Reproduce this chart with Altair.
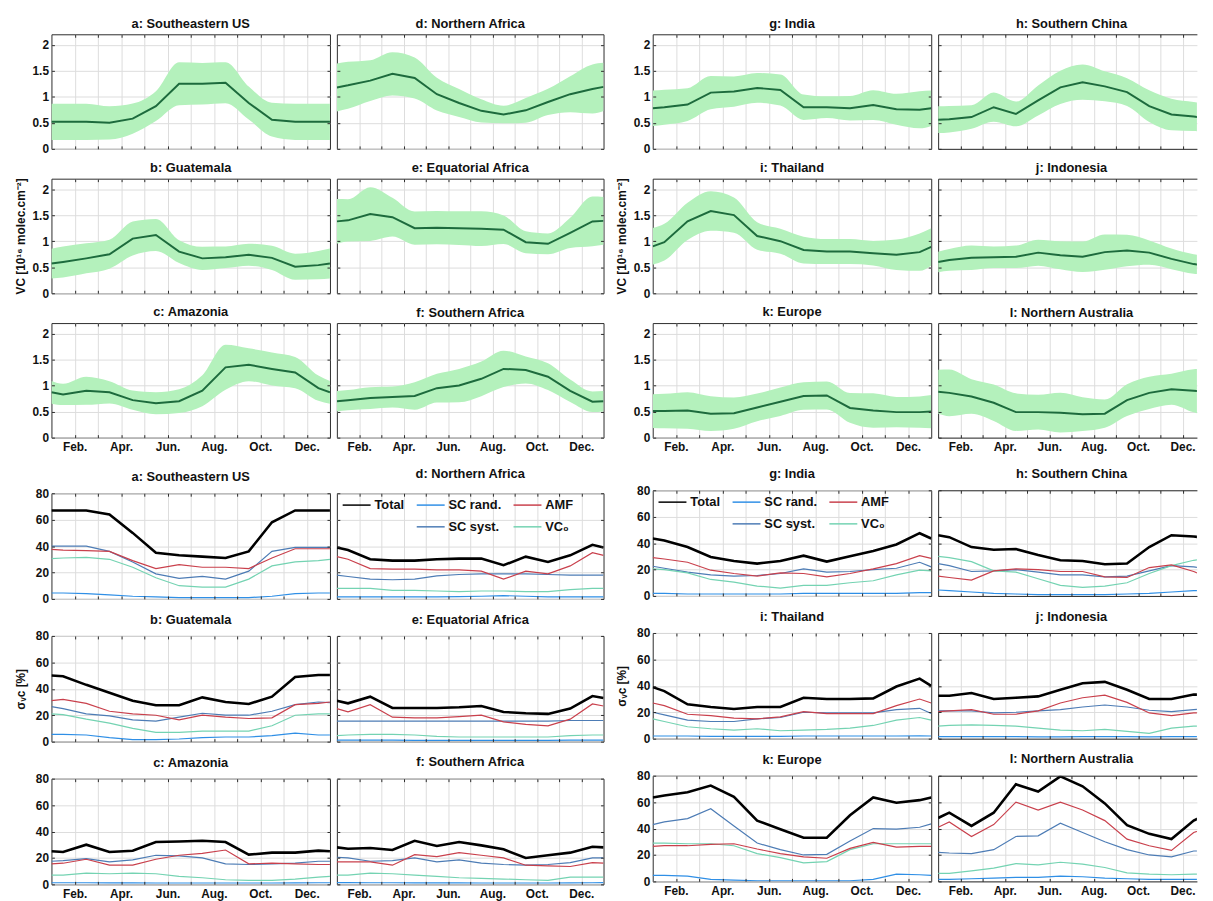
import json
import altair as alt
import pandas as pd

# ---------------- data ----------------
X = [0, 0.5, 1.5, 2.5, 3.5, 4.5, 5.5, 6.5, 7.5, 8.5, 9.5, 10.5, 11.5, 12]
MONTH_TICKS = [1, 2, 3, 4, 5, 6, 7, 8, 9, 10, 11]
MONTH_LABELS = ["Feb.", "", "Apr.", "", "Jun.", "", "Aug.", "", "Oct.", "", "Dec."]
VC_TICKS = [0, 0.5, 1, 1.5, 2]
ERR_TICKS = [0, 20, 40, 60, 80]

TITLES = {
    "a": "a: Southeastern US", "b": "b: Guatemala", "c": "c: Amazonia",
    "d": "d: Northern Africa", "e": "e: Equatorial Africa", "f": "f: Southern Africa",
    "g": "g: India", "h": "h: Southern China", "i": "i: Thailand",
    "j": "j: Indonesia", "k": "k: Europe", "l": "l: Northern Australia",
}

VC = {
    "a": [0.52, 0.52, 0.52, 0.50, 0.58, 0.82, 1.25, 1.25, 1.27, 0.88, 0.56, 0.52, 0.52, 0.52],
    "b": [0.57, 0.60, 0.67, 0.75, 1.05, 1.12, 0.80, 0.67, 0.69, 0.74, 0.68, 0.51, 0.54, 0.57],
    "c": [0.87, 0.83, 0.90, 0.87, 0.72, 0.66, 0.70, 0.90, 1.35, 1.40, 1.32, 1.25, 0.95, 0.87],
    "d": [1.18, 1.22, 1.31, 1.44, 1.36, 1.05, 0.88, 0.73, 0.66, 0.74, 0.90, 1.05, 1.15, 1.19],
    "e": [1.38, 1.40, 1.52, 1.46, 1.25, 1.26, 1.25, 1.24, 1.22, 0.98, 0.95, 1.16, 1.38, 1.39],
    "f": [0.70, 0.72, 0.76, 0.78, 0.80, 0.95, 1.00, 1.13, 1.32, 1.30, 1.17, 0.90, 0.69, 0.70],
    "g": [0.78, 0.80, 0.85, 1.08, 1.10, 1.17, 1.13, 0.80, 0.80, 0.78, 0.84, 0.76, 0.75, 0.78],
    "h": [0.56, 0.57, 0.61, 0.80, 0.67, 0.93, 1.18, 1.28, 1.20, 1.09, 0.82, 0.66, 0.62, 0.60],
    "i": [0.90, 0.98, 1.38, 1.58, 1.50, 1.10, 1.00, 0.83, 0.80, 0.80, 0.77, 0.74, 0.79, 0.89],
    "j": [0.60, 0.64, 0.68, 0.69, 0.70, 0.78, 0.73, 0.70, 0.79, 0.82, 0.78, 0.66, 0.56, 0.54],
    "k": [0.51, 0.51, 0.52, 0.46, 0.47, 0.58, 0.69, 0.80, 0.81, 0.57, 0.52, 0.49, 0.49, 0.50],
    "l": [0.88, 0.86, 0.79, 0.67, 0.49, 0.49, 0.48, 0.45, 0.46, 0.72, 0.86, 0.93, 0.90, 0.88],
}

TOTAL = {
    "a": [67, 67, 67, 64, 50, 35, 33, 32, 31, 36, 58, 67, 67, 67],
    "b": [50, 49.5, 43, 37, 31, 27.5, 27.5, 33.5, 30, 28.5, 34, 49, 50.5, 50.5],
    "c": [25, 24.5, 30, 24.5, 25.5, 32, 32.5, 33, 32, 22.5, 24, 24, 25.5, 25],
    "d": [39, 37, 30, 29, 29, 30, 30.5, 30.5, 25.5, 32, 28, 33, 41, 39],
    "e": [31, 29, 34, 25.5, 25.5, 25.5, 26, 27, 22.5, 21.5, 21, 25, 34.5, 33],
    "f": [28, 27, 27.5, 26, 33, 29, 32, 29.5, 26.5, 20, 22, 24, 28.5, 28],
    "g": [43.5, 42, 37, 29.5, 26.5, 24.5, 26.5, 30.5, 26, 30, 34, 39, 47.5, 43.5],
    "h": [46, 44.5, 37, 35, 35.5, 31, 27, 26.5, 24, 24.5, 37, 46, 45, 44],
    "i": [39, 36, 26, 24, 22.5, 24, 24, 31, 30, 30, 30.5, 39.5, 45.5, 40],
    "j": [32.5, 32.5, 34.5, 30, 31, 32, 37, 42, 43, 37, 30, 30, 33.5, 33],
    "k": [63.5, 65, 67.5, 72.5, 64, 46, 39.5, 33, 33, 50, 63.5, 59.5, 61.5, 63.5],
    "l": [48, 52, 42, 52, 73.5, 68, 79.5, 72, 59, 42.5, 36, 32, 46, 50],
}

AMF = {
    "a": [37.5, 37, 36.5, 36, 29, 23, 26, 24, 24, 23, 31, 38, 38, 38],
    "b": [31, 32, 29, 23, 21, 20, 16.5, 20, 18.5, 17.5, 18, 28, 29, 30],
    "c": [15.5, 16, 19, 14.5, 14.5, 19, 22, 23.5, 26, 15.5, 16, 15.5, 15, 15],
    "d": [32, 30, 23, 22.5, 22.5, 22, 22, 21, 15, 21, 19, 25, 35, 33],
    "e": [25, 22.5, 28, 18.5, 18, 18, 19, 20, 15, 13, 12, 17, 28.5, 27],
    "f": [17, 17, 17, 14.5, 22.5, 21, 24, 22, 20, 14.5, 14, 13.5, 16.5, 16],
    "g": [29, 28, 25.5, 19.5, 17, 15, 17.5, 17, 14.5, 17, 20.5, 24.5, 30.5, 28.5],
    "h": [15, 14, 12, 19, 20.5, 20, 18.5, 18.5, 14.5, 14, 21.5, 23.5, 18.5, 15],
    "i": [27, 25, 18.5, 17.5, 15.5, 15, 16.5, 20.5, 19, 19, 19, 25, 30, 27],
    "j": [20.5, 21, 22, 18.5, 18.5, 21, 27, 31, 33, 27.5, 19.5, 17.5, 19.5, 19.5],
    "k": [26.5, 27, 27, 28, 28.5, 24.5, 21, 18.5, 17.5, 25, 29.5, 26, 26.5, 26.5],
    "l": [41, 45, 34, 43, 60, 54, 60, 54, 46, 32, 27, 23.5, 37, 40],
}

SC_SYST = {
    "a": [40, 40, 40, 36, 28, 19, 15.5, 17, 15, 21, 36, 39, 39, 39],
    "b": [26.5, 25, 21, 19.5, 16.5, 15.5, 18.5, 21.5, 20, 20, 23, 28, 30, 29.5],
    "c": [17.5, 18, 19.5, 17, 18.5, 22, 21.5, 20, 15.5, 15, 15.5, 16, 17.5, 17.5],
    "d": [18, 17, 15, 14.5, 15, 17.5, 18.5, 19, 19, 19, 18.5, 18, 18, 18],
    "e": [15.5, 15.5, 15.5, 15.5, 15.5, 15.5, 15.5, 15.5, 15.5, 15.5, 15.5, 16, 16, 16],
    "f": [20.5, 20, 17.5, 18, 20, 17, 18.5, 16, 15, 14.5, 15, 16.5, 20, 20],
    "g": [22.5, 21, 18, 16, 15, 15.5, 17, 20.5, 18, 18.5, 20, 21, 25.5, 22],
    "h": [24.5, 23, 18.5, 19, 20, 18, 16, 16, 14.5, 15, 19, 23, 22, 21],
    "i": [20, 18, 14, 13, 13, 15, 16, 20, 19.5, 19.5, 19.5, 22, 23, 19],
    "j": [21, 21, 21, 19.5, 20, 21, 22, 24, 25.5, 24, 21.5, 20.5, 22, 22.5],
    "k": [43, 45, 47.5, 55, 42, 29, 24, 20, 20.5, 30.5, 40, 39.5, 41, 43.5],
    "l": [22, 21.5, 21, 24, 34, 34.5, 44, 37, 30, 24, 20, 18.5, 23, 23],
}

VC0 = {
    "a": [30.5, 31, 31.5, 30, 24, 16, 10, 9, 9, 15, 25, 28, 29, 30],
    "b": [21, 20.5, 17, 14, 10, 7, 7, 8, 8, 8, 12, 20, 21, 21],
    "c": [7, 7, 8.5, 8, 8.5, 8, 6, 5, 3.5, 3, 3, 4, 5.5, 6],
    "d": [8, 8, 8, 6.5, 6.5, 6, 5.5, 6, 6, 5.5, 5.5, 7, 8, 8],
    "e": [4.5, 5, 5.5, 5.5, 5, 4, 3.5, 3.5, 3.5, 3.5, 3.5, 4.5, 5, 5],
    "f": [7, 7, 8.5, 8, 7, 6, 5, 4.5, 4, 3.5, 3, 5.5, 5.5, 5.5],
    "g": [20.5, 20, 17.5, 12.5, 10.5, 7.5, 6, 8, 8, 10, 11.5, 16, 19.5, 19],
    "h": [30, 29, 26, 19, 18, 13, 8, 6.5, 7.5, 10, 17, 23, 27, 28],
    "i": [15, 13, 9, 7.5, 6.5, 7.5, 6, 6.5, 7, 8, 10, 14, 16, 14],
    "j": [9.5, 10, 10.5, 10, 9.5, 8, 6.5, 6, 7, 5.5, 4, 8, 9.5, 9.5],
    "k": [29, 29, 28.5, 28.5, 27, 21, 18, 14, 15, 24, 28.5, 28.5, 28.5, 28.5],
    "l": [6, 6, 8, 10, 13.5, 12.5, 14.5, 13, 10.5, 6.5, 5.5, 5, 5.5, 5.5],
}

SC_RAND = {
    "a": [4.5, 4.5, 4, 3, 2, 1.5, 1, 1, 1, 1, 2, 4, 4.5, 4.5],
    "b": [5.5, 5.5, 5, 3, 1.5, 1.5, 2, 3, 3.5, 3.5, 4.5, 6.5, 5, 5],
    "c": [1.2, 1.2, 1.2, 1.1, 1.1, 1, 1, 1, 1, 1, 1, 1.1, 1.2, 1.2],
    "d": [1.5, 1.5, 1.5, 1.5, 1.5, 1.5, 1.8, 2, 2.5, 2, 1.5, 1.5, 1.5, 1.5],
    "e": [1.2, 1.2, 1.1, 1.1, 1, 1, 1, 1, 1, 1, 1, 1.1, 1.2, 1.2],
    "f": [1.3, 1.3, 1.2, 1.2, 1.1, 1.1, 1.1, 1, 1, 1, 1, 1.1, 1.2, 1.3],
    "g": [2, 2, 1.5, 1.5, 1.5, 1.5, 1.5, 2, 2, 2, 2, 2, 2.5, 2.5],
    "h": [4.5, 4, 3, 2, 1.5, 1, 1, 1, 1, 1.5, 2, 3, 4, 4],
    "i": [2, 2, 2, 1.8, 1.8, 1.8, 1.8, 2, 2, 2, 2, 2, 2.2, 2],
    "j": [1.5, 1.5, 1.6, 1.5, 1.5, 1.4, 1.4, 1.5, 1.5, 1.5, 1.4, 1.5, 1.5, 1.5],
    "k": [4.5, 4.5, 4, 1.5, 1, 0.5, 0.5, 0.5, 0.5, 0.5, 1.5, 5.5, 5, 4.5],
    "l": [1.5, 1.5, 2, 2.5, 3, 3, 4, 3.5, 2.5, 2, 1.5, 1.5, 1.5, 1.5],
}

SERIES = ["Total", "SC rand.", "AMF", " ", "SC syst.", "VC\u2080"]
SERIES_DATA = [("SC rand.", SC_RAND), ("SC syst.", SC_SYST), ("VC\u2080", VC0),
               ("AMF", AMF), ("Total", TOTAL)]

# ---------------- style ----------------
FONT = "Liberation Sans"
AX_COLOR = "#2b2b2b"
GRID_COLOR = "#dcdcdc"
BAND_COLOR = "#b4f1bc"
MEAN_COLOR = "#1d6b3d"
SERIES_COLORS = ["#000000", "#2f8fe6", "#c9404c", "transparent", "#4d7cb5", "#74d3b2"]

VC_TITLE = "VC [10\u00b9\u2076 molec.cm\u207b\u00b2]"
ERR_TITLE = "\u03c3\u1d65\u1d04 [%]"

W_L, W_R = 282, 270
W_CUT = 262                      # visible part of the right-most column
X_CUT = 12 * W_CUT / W_R
H_TOP, H_BOT = 116, 107

LABEL_EXPR = "[" + ",".join(json.dumps(s) for s in MONTH_LABELS) + "][datum.value - 1]"


def main_x_axis(show):
    return alt.Axis(values=MONTH_TICKS, labelExpr=LABEL_EXPR, labels=show, ticks=False,
                    domain=False, grid=True, gridColor=GRID_COLOR, gridWidth=1, title=None,
                    labelFont=FONT, labelFontSize=12, labelFontWeight="bold", labelColor="#111111",
                    labelPadding=4, labelOverlap=False, labelFlush=False, zindex=0)


def main_y_axis(vals, fmt, show, title, title_opacity, tpad, domain=False):
    return alt.Axis(values=vals, format=fmt, labels=show, ticks=False, domain=domain,
                    domainColor=AX_COLOR, grid=True, gridColor=GRID_COLOR, gridWidth=1, title=title,
                    titleFont=FONT, titleFontSize=12, titleFontWeight="bold", titleColor="#111111",
                    titleOpacity=title_opacity, titlePadding=tpad,
                    labelFont=FONT, labelFontSize=12, labelFontWeight="bold",
                    labelColor="#111111", labelPadding=3, labelOverlap=False, labelFlush=False,
                    zindex=0)


def tick_axis(vals, orient):
    return alt.Axis(orient=orient, values=vals, labels=False, ticks=True, tickSize=3,
                    tickColor=AX_COLOR, tickWidth=1, domain=False, grid=False, offset=-3,
                    title=None, zindex=2)


def frame_axis(orient):
    return alt.Axis(orient=orient, values=MONTH_TICKS, labels=False, ticks=False, domain=True,
                    domainColor=AX_COLOR, domainWidth=1, grid=False, title=None, zindex=2)


def legend_spec():
    return alt.Legend(orient="none", legendX=5, legendY=-3, columns=3, title=None,
                      symbolType="stroke", symbolSize=800, symbolStrokeWidth=1.5,
                      labelFont=FONT, labelFontSize=13, labelFontWeight="bold",
                      labelColor="#111111", padding=0, columnPadding=8, rowPadding=0,
                      labelOffset=3, direction="horizontal")


def panel(kind, key, width, height, show_x, left_col, ytitle, title_opacity, tpad,
          with_legend, cut, title_offset):
    xmax = X_CUT if cut else 12
    xs = alt.Scale(domain=[0, xmax], nice=False, zero=False)
    if kind == "vc":
        ydom, yvals, fmt = [0, 2.2], VC_TICKS, ".1~f"
    else:
        ydom, yvals, fmt = [0, 80], ERR_TICKS, "d"
    ys = alt.Scale(domain=ydom, nice=False, zero=False)
    xaxis = main_x_axis(show_x)
    if left_col:
        yaxis = main_y_axis(yvals, fmt, True, ytitle, title_opacity, tpad)
    else:
        yaxis = main_y_axis(yvals, fmt, False, None, 1, tpad, domain=cut)

    if kind == "vc":
        df = pd.DataFrame({"x": X, "vc": VC[key], "tot": TOTAL[key]})
        base = alt.Chart(df)
        band = base.transform_calculate(
            lo="datum.vc * (1 - datum.tot / 100)",
            hi="datum.vc * (1 + datum.tot / 100)",
        ).mark_area(color=BAND_COLOR, interpolate="monotone", clip=True).encode(
            x=alt.X("x:Q", scale=xs, axis=None),
            y=alt.Y("lo:Q", scale=ys, axis=None),
            y2="hi:Q",
        )
        line = base.mark_line(color=MEAN_COLOR, strokeWidth=2, clip=True).encode(
            x=alt.X("x:Q", scale=xs, axis=xaxis),
            y=alt.Y("vc:Q", scale=ys, axis=yaxis),
        )
        layers = [band, line]
        yfield = "vc:Q"
    else:
        rows = []
        for name, src in SERIES_DATA:
            for xv, v in zip(X, src[key]):
                rows.append({"x": xv, "v": v, "s": name})
        df = pd.DataFrame(rows)
        base = alt.Chart(df)
        leg = legend_spec() if with_legend else None
        line = base.mark_line(clip=True).encode(
            x=alt.X("x:Q", scale=xs, axis=xaxis),
            y=alt.Y("v:Q", scale=ys, axis=yaxis),
            color=alt.Color("s:N", scale=alt.Scale(domain=SERIES, range=SERIES_COLORS), legend=leg),
            strokeWidth=alt.condition(alt.datum.s == "Total", alt.value(2.6), alt.value(1.2)),
        )
        layers = [line]
        yfield = "v:Q"

    t1 = base.mark_line(opacity=0).encode(
        x=alt.X("x:Q", scale=xs, axis=tick_axis(MONTH_TICKS, "bottom")),
        y=alt.Y(yfield, scale=ys, axis=tick_axis(yvals, "left")),
    )
    if cut:
        t2 = base.mark_line(opacity=0).encode(
            x=alt.X("x:Q", scale=xs, axis=tick_axis(MONTH_TICKS, "top")),
            y=alt.Y(yfield, scale=ys, axis=None),
        )
        f1 = base.mark_line(opacity=0).encode(
            x=alt.X("x:Q", scale=xs, axis=frame_axis("bottom")),
            y=alt.Y(yfield, scale=ys, axis=None),
        )
        f2 = base.mark_line(opacity=0).encode(
            x=alt.X("x:Q", scale=xs, axis=frame_axis("top")),
            y=alt.Y(yfield, scale=ys, axis=None),
        )
        extra = [t1, t2, f1, f2]
        view = alt.ViewBackground(stroke=None)
    else:
        t2 = base.mark_line(opacity=0).encode(
            x=alt.X("x:Q", scale=xs, axis=tick_axis(MONTH_TICKS, "top")),
            y=alt.Y(yfield, scale=ys, axis=tick_axis(yvals, "right")),
        )
        extra = [t1, t2]
        view = None

    title = alt.TitleParams(TITLES[key], font=FONT, fontSize=13, fontWeight="bold",
                            color="#111111", offset=title_offset, anchor="middle",
                            dx=(W_R - W_CUT) / 2 if cut else 0)
    props = dict(width=width, height=height, title=title)
    if view is not None:
        props["view"] = view
    return alt.layer(*layers, *extra).resolve_axis(x="independent", y="independent").properties(**props)


def hc(charts, spacing):
    return alt.hconcat(*charts, spacing=spacing).resolve_scale(
        color="independent").resolve_legend(color="independent")


def vc(charts, spacing):
    return alt.vconcat(*charts, spacing=spacing).resolve_scale(
        color="independent").resolve_legend(color="independent")


def block(kind, pairs, height, row_spacing, ytitle, tpad, legend_key, cut_right):
    rows = []
    for r, (k1, k2) in enumerate(pairs):
        last = r == len(pairs) - 1
        off_left = 3
        off_right = 3 if kind == "vc" else 9
        p1 = panel(kind, k1, W_L, height, last, True, ytitle, 1 if r == 1 else 0, tpad,
                   k1 == legend_key, False, off_left)
        p2 = panel(kind, k2, W_CUT if cut_right else W_R, height, last, False, None, 1, tpad,
                   k2 == legend_key, cut_right, off_right)
        rows.append(hc([p1, p2], 5))
    return vc(rows, row_spacing)


LEFT = [("a", "d"), ("b", "e"), ("c", "f")]
RIGHT = [("g", "h"), ("i", "j"), ("k", "l")]

left_col = vc([block("vc", LEFT, H_TOP, 5.2, VC_TITLE, 5, None, False),
               block("err", LEFT, H_BOT, 7.5, ERR_TITLE, 8, "d", False)], 14.7)
right_col = vc([block("vc", RIGHT, H_TOP, 5.2, VC_TITLE, 5, None, True),
                block("err", RIGHT, H_BOT, 7.5, ERR_TITLE, 8, "g", True)], 14.7)

chart = hc([left_col, right_col], 9.8).properties(
    padding={"left": 5, "top": 3, "right": 0, "bottom": 0},
    background="white",
).configure_view(stroke=AX_COLOR, strokeWidth=1)

chart.save("out.html", embed_options={"renderer": "svg", "actions": False})
